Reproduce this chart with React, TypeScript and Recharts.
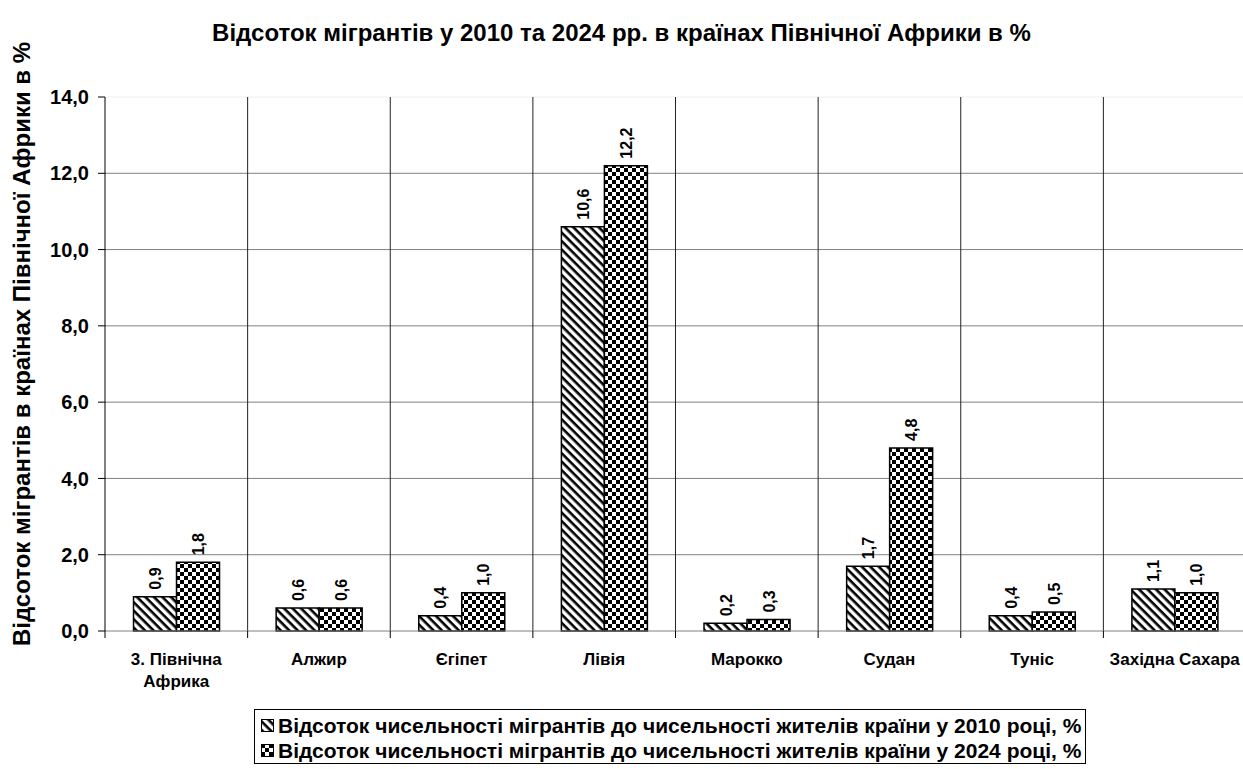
import React from 'react';
import { BarChart, Bar, XAxis, YAxis, CartesianGrid, LabelList, Legend, ReferenceLine } from 'recharts';

const categories = ['3. Північна Африка', 'Алжир', 'Єгіпет', 'Лівія', 'Марокко', 'Судан', 'Туніс', 'Західна Сахара'];
const values2010 = [0.9, 0.6, 0.4, 10.6, 0.2, 1.7, 0.4, 1.1];
const values2024 = [1.8, 0.6, 1.0, 12.2, 0.3, 4.8, 0.5, 1.0];
const yTicks = [0, 2, 4, 6, 8, 10, 12, 14];
const series2010Name = 'Відсоток чисельності мігрантів до чисельності жителів країни у 2010 році, %';
const series2024Name = 'Відсоток чисельності мігрантів до чисельності жителів країни у 2024 році, %';
const title = 'Відсоток мігрантів у 2010 та 2024 рр. в країнах Північної Африки в %';
const yTitle = 'Відсоток мігрантів в країнах Північної Африки в %';

const data = categories.map((name, i) => ({ name, v2010: values2010[i], v2024: values2024[i] }));

const FONT = 'Liberation Sans, Arial, sans-serif';
const fmt = (v: number) => v.toFixed(1).replace('.', ',');

const CatTick = (props: any) => {
  const { x, y, payload, width, visibleTicksCount } = props;
  const label: string = payload.value;
  const lines = label === '3. Північна Африка' ? ['3. Північна', 'Африка'] : [label];
  const half = payload.offset != null && payload.offset > 0 ? payload.offset : width / (visibleTicksCount || categories.length) / 2;
  return (
    <g>
      <line x1={x - half} x2={x - half} y1={y} y2={y + 7} stroke="#000" strokeWidth={1} />
      <text x={x} y={y + 34} textAnchor="middle" fontFamily={FONT} fontWeight="bold" fontSize={17} fill="#000">
        {lines.map((l, i) => (
          <tspan key={i} x={x} dy={i === 0 ? 0 : 22}>{l}</tspan>
        ))}
      </text>
    </g>
  );
};

const ValueLabel = (props: any) => {
  const { x, y, width, value } = props;
  const cx = x + width / 2 + 6;
  const cy = y - 7;
  return (
    <text transform={`translate(${cx}, ${cy}) rotate(-90)`} textAnchor="start" fontFamily={FONT} fontWeight="bold" fontSize={16} fill="#000">
      {fmt(value)}
    </text>
  );
};

const LegendContent = () => (
  <div style={{ border: '1px solid #000', padding: '3px 4px 0px 6px', fontFamily: FONT, fontWeight: 'bold', fontSize: 21, lineHeight: '25px', background: '#fff', whiteSpace: 'nowrap' }}>
    {[{ n: series2010Name, f: 'url(#stripes)' }, { n: series2024Name, f: 'url(#checks)' }].map((it, i) => (
      <div key={i} style={{ display: 'flex', alignItems: 'center' }}>
        <svg width={13} height={13} style={{ marginRight: 4 }}>
          <rect x={0.5} y={0.5} width={12} height={12} fill={it.f} stroke="#000" strokeWidth={1} />
        </svg>
        <span>{it.n}</span>
      </div>
    ))}
  </div>
);

export default function App() {
  return (
    <div style={{ position: 'absolute', left: 0, top: 0, width: 1243, height: 769, overflow: 'hidden', background: '#fff' }}>
      <div style={{ position: 'absolute', left: 0, top: 19, width: 1243, textAlign: 'center', fontFamily: FONT, fontWeight: 'bold', fontSize: 24, lineHeight: '28px' }}>
        {title}
      </div>
      <BarChart
        width={1250}
        height={769}
        data={data}
        margin={{ top: 97, right: 4, bottom: 78, left: 0 }}
        barCategoryGap="20%"
        barGap={0}
      >
        <defs>
          <pattern id="stripes" width={6} height={6} patternUnits="userSpaceOnUse" patternTransform="rotate(45)">
            <rect width={6} height={6} fill="#fff" />
            <rect width={6} height={2.6} fill="#000" />
          </pattern>
          <pattern id="checks" width={8} height={8} patternUnits="userSpaceOnUse">
            <rect width={8} height={8} fill="#fff" />
            <rect x={0} y={0} width={4} height={4} fill="#000" />
            <rect x={4} y={4} width={4} height={4} fill="#000" />
          </pattern>
        </defs>
        <CartesianGrid yAxisId="y" xAxisId="cat" vertical={false} stroke="#808080" horizontalValues={[2, 4, 6, 8, 10, 12]} />
        <ReferenceLine yAxisId="y" xAxisId="cat" y={14} stroke="#eeeeee" />
        {categories.slice(1).map((c) => (
          <ReferenceLine key={c} yAxisId="y" xAxisId="cat" x={c} position="start" stroke="#222" />
        ))}
        <XAxis
          xAxisId="cat"
          dataKey="name"
          height={60}
          axisLine={{ stroke: '#808080' }}
          tickLine={false}
          tickSize={0}
          tickMargin={0}
          interval={0}
          tick={<CatTick />}
        />
        <YAxis
          yAxisId="y"
          width={105}
          domain={[0, 14]}
          ticks={yTicks}
          tickFormatter={fmt}
          tickSize={7}
          tickMargin={9}
          axisLine={{ stroke: '#000' }}
          tickLine={{ stroke: '#000' }}
          tick={{ fill: '#000', fontFamily: FONT, fontWeight: 'bold', fontSize: 20 }}
          label={{
            value: yTitle,
            angle: -90,
            position: 'insideLeft',
            dx: 16,
            dy: -20,
            style: { textAnchor: 'middle', fontFamily: FONT, fontWeight: 'bold', fontSize: 24, fill: '#000' },
          }}
        />
        <Bar xAxisId="cat" yAxisId="y" dataKey="v2010" name={series2010Name} fill="url(#stripes)" stroke="#000" strokeWidth={1.5} isAnimationActive={false}>
          <LabelList dataKey="v2010" content={<ValueLabel />} />
        </Bar>
        <Bar xAxisId="cat" yAxisId="y" dataKey="v2024" name={series2024Name} fill="url(#checks)" stroke="#000" strokeWidth={1.5} isAnimationActive={false}>
          <LabelList dataKey="v2024" content={<ValueLabel />} />
        </Bar>
        <Legend
          layout="horizontal"
          verticalAlign="middle"
          align="center"
          content={<LegendContent />}
          wrapperStyle={{ position: 'absolute', left: 254, top: 709, width: 'auto' }}
        />
      </BarChart>
    </div>
  );
}
